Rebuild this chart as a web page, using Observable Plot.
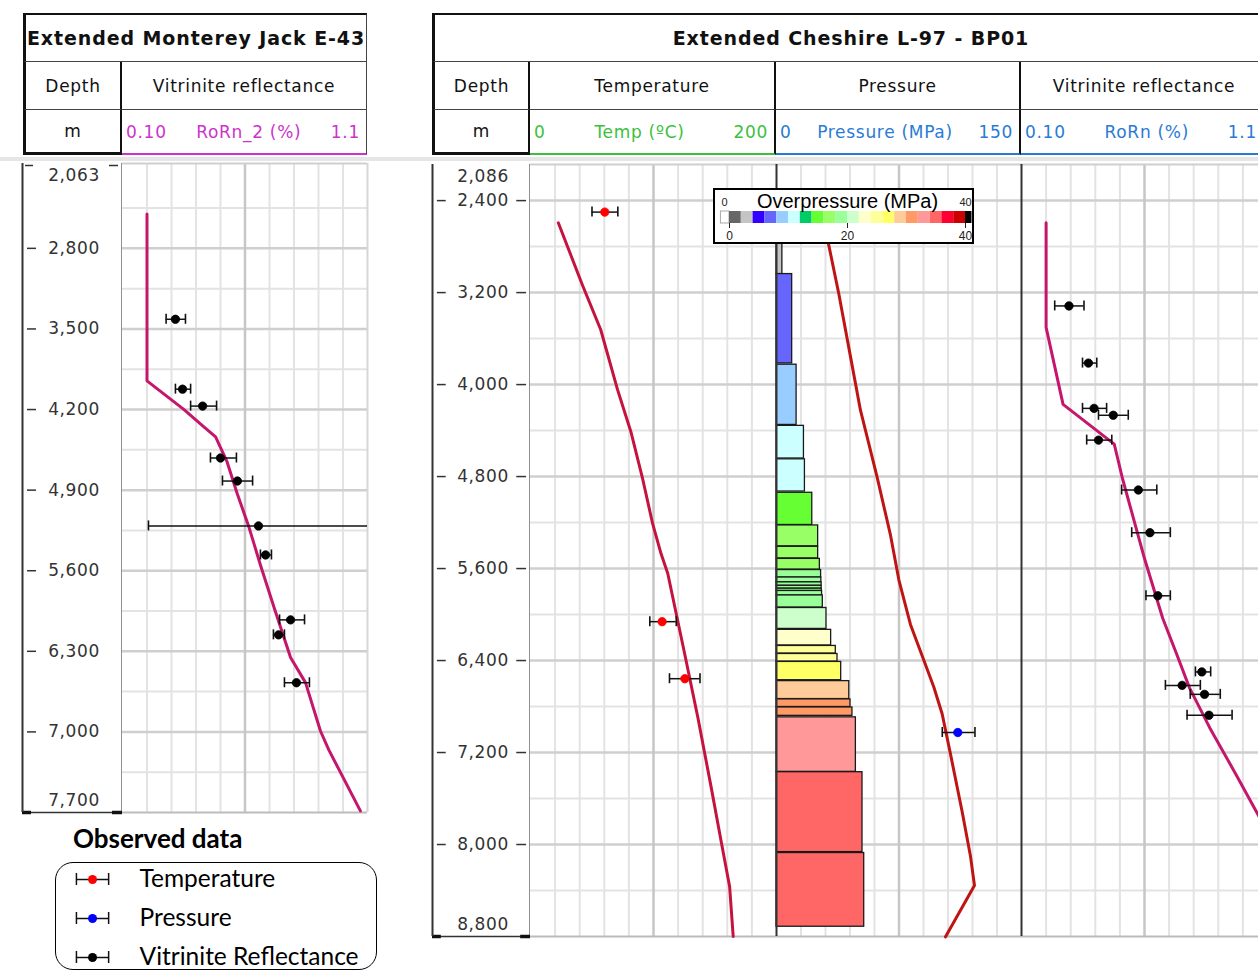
<!DOCTYPE html>
<html><head><meta charset="utf-8">
<script src="https://cdn.jsdelivr.net/npm/d3@7"></script>
<script src="https://cdn.jsdelivr.net/npm/@observablehq/plot@0.6"></script>
<style>
body{margin:0;background:#fff;}
#root{position:relative;width:1258px;height:972px;overflow:hidden;font-family:"DejaVu Sans",sans-serif;background:#fff;}
.cell{position:absolute;box-sizing:border-box;display:flex;align-items:center;justify-content:center;color:#111;font-size:17px;letter-spacing:0.7px;white-space:nowrap;}
.unit{justify-content:space-between;padding:0 6px 0 4px;}
</style></head><body><div id="root"></div>
<script>
// ================= DATA =================
// --- Extended Monterey Jack E-43 ---
const mjDepthDomain = [2063, 7700];
const mjDepthTicks = [2800, 3500, 4200, 4900, 5600, 6300, 7000];
const mjGridMinor = [2450, 3150, 3850, 4550, 5250, 5950, 6650, 7350];
const mjRoCurveDepth = [2502, 3951, 4199, 4338, 4437, 4655, 4929, 5221, 5550, 5915, 6353, 6572, 6992, 7156, 7686];
const mjRoCurveValue = [0.20, 0.20, 0.35, 0.425, 0.48, 0.527, 0.568, 0.616, 0.663, 0.718, 0.786, 0.847, 0.908, 0.942, 1.071];
const mjRoObsDepth = [3416, 4023, 4170, 4621, 4821, 5211, 5463, 6027, 6157, 6573];
const mjRoObsValue = [0.316, 0.345, 0.427, 0.500, 0.569, 0.655, 0.684, 0.786, 0.737, 0.810];
const mjRoObsLow   = [0.278, 0.316, 0.378, 0.459, 0.508, 0.206, 0.663, 0.741, 0.716, 0.761];
const mjRoObsHigh  = [0.357, 0.378, 0.484, 0.565, 0.631, 1.300, 0.708, 0.843, 0.761, 0.863];

// --- Extended Cheshire L-97 - BP01 ---
const chDepthDomain = [2086, 8800];
const chDepthTicks = [2400, 3200, 4000, 4800, 5600, 6400, 7200, 8000];
const chGridMinor = [2800, 3600, 4400, 5200, 6000, 6800, 7600, 8400];

const chTempCurveDepth = [2593, 3134, 3523, 4042, 4410, 4821, 5210, 5470, 5643, 5989, 6335, 6897, 7503, 7979, 8368, 8800];
const chTempCurveValue = [22.6, 42.2, 57.1, 70.7, 81.6, 91.2, 99.3, 106.1, 111.6, 118.4, 125.2, 136.1, 146.9, 155.1, 161.9, 164.8];
const chTempObsDepth = [2500, 6062, 6558];
const chTempObsValue = [60.4, 107.0, 125.5];
const chTempObsLow   = [50.0, 97.0, 113.0];
const chTempObsHigh  = [71.0, 118.5, 137.8];

const chPresCurveDepth = [2593, 2787, 3214, 3757, 4223, 4805, 5310, 5698, 6086, 6397, 6630, 6863, 7212, 7717, 8105, 8357, 8803];
const chPresCurveValue = [29.2, 32.0, 38.2, 45.3, 51.4, 61.6, 69.8, 74.9, 82.0, 90.2, 96.3, 101.4, 106.5, 113.7, 118.8, 121.2, 103.5];
const chPresObsDepth = [7026];
const chPresObsValue = [111.0];
const chPresObsLow   = [101.5];
const chPresObsHigh  = [121.5];

// Overpressure column (MPa)
const opTop    = [2593, 3039, 3827, 4359, 4650, 4941, 5225, 5411, 5516, 5613, 5678, 5720, 5750, 5775, 5795, 5834, 5943, 6133, 6273, 6343, 6412, 6579, 6738, 6808, 6894, 7371, 8074];
const opBottom = [3039, 3816, 4351, 4643, 4930, 5221, 5407, 5512, 5609, 5678, 5720, 5750, 5775, 5795, 5834, 5939, 6125, 6269, 6339, 6409, 6571, 6735, 6804, 6881, 7368, 8066, 8715];
const opValue  = [2.4, 6.4, 8.2, 11.2, 11.6, 14.6, 17.0, 17.0, 17.7, 18.2, 18.3, 18.4, 18.4, 18.5, 18.6, 18.9, 20.4, 22.3, 24.2, 24.9, 26.4, 29.7, 30.2, 31.0, 32.4, 35.1, 35.8];
const opThresholds = [0, 2, 4, 6, 8, 10, 12, 14, 16, 18, 20, 22, 24, 26, 28, 30, 32, 34, 36, 38, 40];
const opColors = ["#ffffff", "#666666", "#c4c4c4", "#3300ff", "#6666ff", "#99ccff", "#ccffff", "#00cc66", "#66ff33", "#99ff66", "#99ff99", "#ccffcc", "#ffffcc", "#ffff99", "#ffff66", "#ffcc99", "#ff9966", "#ff9999", "#ff6666", "#ff0033", "#cc0000", "#000000"];
const opLegendTicks = [0, 20, 40];

const chRoCurveDepth = [2593, 3502, 4172, 4518, 4821, 5513, 6032, 6335, 6638, 6984, 7395, 7762];
const chRoCurveValue = [0.20, 0.20, 0.269, 0.477, 0.511, 0.600, 0.674, 0.729, 0.783, 0.865, 0.973, 1.067];
const chRoObsDepth = [3316, 3813, 4207, 4267, 4483, 4917, 5288, 5837, 6499, 6616, 6694, 6876];
const chRoObsValue = [0.293, 0.372, 0.395, 0.473, 0.413, 0.575, 0.622, 0.654, 0.833, 0.753, 0.844, 0.862];
const chRoObsLow   = [0.235, 0.348, 0.348, 0.413, 0.365, 0.507, 0.548, 0.606, 0.807, 0.685, 0.786, 0.773];
const chRoObsHigh  = [0.354, 0.406, 0.446, 0.534, 0.467, 0.650, 0.705, 0.705, 0.869, 0.827, 0.908, 0.956];

// Track axes
const roDomain = [0.1, 1.1], roGrid = [0.2, 0.3, 0.4, 0.5, 0.7, 0.8, 0.9, 1.0], roMajor = [0.6];
const tempDomain = [0, 200], tempGrid = [20, 40, 60, 80, 120, 140, 160, 180], tempMajor = [100];
const presDomain = [0, 150], presGrid = [15, 30, 45, 60, 90, 105, 120, 135], presMajor = [75];
const opWidthDomain = [0, 100];

const legendLabels = ["Temperature", "Pressure", "Vitrinite Reflectance"];
const legendColors = ["#ff0000", "#0000ff", "#000000"];

// colours
const roColor = "#c4166c", tempColor = "#c5133f", presColor = "#bf1414";

// ================= HELPERS =================
const root = document.getElementById("root");
const fmt = d3.format(",");
const zip = (ds, vs) => ds.map((d, i) => ({d, v: vs[i]}));
const zipObs = (ds, vs, lo, hi) => ds.map((d, i) => ({d, v: vs[i], lo: lo[i], hi: hi[i]}));

function place(el, left, top) {
  el.style.position = "absolute";
  el.style.left = left + "px";
  el.style.top = top + "px";
  root.appendChild(el);
  return el;
}
function box(left, top, width, height, css, html, cls) {
  const d = document.createElement("div");
  d.className = "cell" + (cls ? " " + cls : "");
  Object.assign(d.style, {left: left + "px", top: top + "px", width: width + "px", height: height + "px"}, css || {});
  d.innerHTML = html || "";
  root.appendChild(d);
  return d;
}
function unitBox(left, top, width, height, color, a, b, c, css) {
  return box(left, top, width, height, Object.assign({color, borderBottom: "2px solid " + color}, css || {}),
    `<span>${a}</span><span>${b}</span><span>${c}</span>`, "unit");
}

function gridMarks(xMinor, xMajor, yMinor, yMajor, yDomain) {
  return [
    Plot.ruleX(xMinor, {stroke: "#e3e3e3", strokeWidth: 2}),
    Plot.ruleY(yMinor, {stroke: "#e3e3e3", strokeWidth: 2}),
    Plot.ruleY(yMajor, {stroke: "#cfcfcf", strokeWidth: 2.5}),
    Plot.ruleX(xMajor, {stroke: "#c6c6c6", strokeWidth: 2.5}),
    Plot.ruleY([yDomain[0]], {stroke: "#cfcfcf", strokeWidth: 2}),
    Plot.ruleY([yDomain[1]], {stroke: "#bbbbbb", strokeWidth: 2})
  ];
}
function errorMarks(obs, fill) {
  return [
    Plot.ruleY(obs, {y: "d", x1: "lo", x2: "hi", stroke: "#111", strokeWidth: 1.5, clip: true}),
    Plot.ruleX(obs, {x: "lo", y1: "d", y2: "d", insetTop: -5, insetBottom: -5, stroke: "#111", strokeWidth: 1.6, clip: true}),
    Plot.ruleX(obs, {x: "hi", y1: "d", y2: "d", insetTop: -5, insetBottom: -5, stroke: "#111", strokeWidth: 1.6, clip: true}),
    Plot.dot(obs, {x: "v", y: "d", r: 4.2, fill, stroke: fill, strokeWidth: 0.8})
  ];
}
function track({xDomain, yDomain, width, height, marks, background = "white"}) {
  return Plot.plot({
    width, height, marginTop: 0, marginBottom: 0, marginLeft: 0, marginRight: 0,
    x: {domain: xDomain, axis: null},
    y: {domain: yDomain, reverse: true, axis: null},
    color: {type: "threshold", domain: opThresholds, range: opColors},
    style: {background, overflow: "visible"},
    marks
  });
}
function depthTrack({domain, ticks, width, height, rightTicks, topMarks}) {
  const marks = [
    Plot.ruleY(ticks, {x1: 0.05, x2: 0.14, stroke: "#333", strokeWidth: 1.5}),
    Plot.text(ticks, {x: 0.515, y: d => d, text: d => fmt(d), fontSize: 17, fill: "#333"}),
    Plot.text([domain[0]], {x: 0.515, y: d => d, text: d => fmt(d), dy: 12, fontSize: 17, fill: "#333"}),
    Plot.text([domain[1]], {x: 0.515, y: d => d, text: d => fmt(d), dy: -12, fontSize: 17, fill: "#333"}),
    Plot.ruleY([domain[1]], {stroke: "#333", strokeWidth: 1.5}),
    Plot.ruleY([domain[1]], {x1: 0, x2: 0.09, stroke: "#111", strokeWidth: 3.5}),
    Plot.ruleY([domain[1]], {x1: 0.9, x2: 1, stroke: "#111", strokeWidth: 3.5}),
    Plot.ruleX([0], {stroke: "#333", strokeWidth: 2}),
    Plot.ruleX([1], {stroke: "#222", strokeWidth: 2})
  ];
  if (rightTicks) marks.push(Plot.ruleY(ticks, {x1: 0.86, x2: 0.96, stroke: "#333", strokeWidth: 1.5}));
  if (topMarks) {
    marks.push(Plot.ruleY([domain[0]], {x1: 0.03, x2: 0.11, dy: 2, stroke: "#333", strokeWidth: 1.5}));
    marks.push(Plot.ruleY([domain[0]], {x1: 0.87, x2: 0.96, dy: 2, stroke: "#333", strokeWidth: 1.5}));
  }
  return Plot.plot({
    width, height, marginTop: 0, marginBottom: 0, marginLeft: 0, marginRight: 0,
    x: {domain: [0, 1], axis: null},
    y: {domain, reverse: true, axis: null},
    style: {background: "white", overflow: "visible", fontFamily: "DejaVu Sans", letterSpacing: "0.6px"},
    marks
  });
}

// ================= HEADERS =================
const titleCss = {fontWeight: "bold", fontSize: "19px", letterSpacing: "0.9px"};
box(23, 13, 344, 49, Object.assign({borderTop: "2px solid #111", borderLeft: "3px solid #111", borderRight: "1px solid #444", borderBottom: "1px solid #444"}, titleCss), "Extended Monterey Jack E-43");
box(23, 62, 99, 48, {borderLeft: "3px solid #111", borderRight: "2px solid #111", borderBottom: "1px solid #444"}, "Depth");
box(122, 62, 245, 48, {borderRight: "1px solid #444", borderBottom: "1px solid #444"}, "Vitrinite reflectance");
box(23, 110, 99, 45, {borderLeft: "3px solid #111", borderRight: "2px solid #111", borderBottom: "3px solid #111"}, "m");
unitBox(122, 110, 245, 45, "#cc33cc", "0.10", "RoRn_2 (%)", "1.1", {borderRight: "1px solid #444"});

box(432, 13, 835, 49, Object.assign({borderTop: "2px solid #111", borderLeft: "3px solid #111", borderBottom: "1px solid #444"}, titleCss), "Extended Cheshire L-97 - BP01");
box(432, 62, 98, 48, {borderLeft: "3px solid #111", borderRight: "2px solid #111", borderBottom: "1px solid #444"}, "Depth");
box(530, 62, 246, 48, {borderRight: "2px solid #111", borderBottom: "1px solid #444"}, "Temperature");
box(776, 62, 245, 48, {borderRight: "2px solid #111", borderBottom: "1px solid #444"}, "Pressure");
box(1021, 62, 246, 48, {borderBottom: "1px solid #444"}, "Vitrinite reflectance");
box(432, 110, 98, 45, {borderLeft: "3px solid #111", borderRight: "2px solid #111", borderBottom: "3px solid #111"}, "m");
unitBox(530, 110, 246, 45, "#3cbf3c", "0", "Temp (ºC)", "200", {borderRight: "2px solid #111"});
unitBox(776, 110, 245, 45, "#2a7ad5", "0", "Pressure (MPa)", "150", {borderRight: "2px solid #111"});
unitBox(1021, 110, 246, 45, "#2a7ad5", "0.10", "RoRn (%)", "1.1", {paddingRight: "10px"});

box(0, 157, 1258, 4, {background: "#e6e6e6"});

// ================= LEFT WELL =================
const mjH = 649, mjTop = 163;
place(depthTrack({domain: mjDepthDomain, ticks: mjDepthTicks, width: 100, height: mjH, rightTicks: false, topMarks: true}), 22, mjTop);
place(track({
  xDomain: roDomain, yDomain: mjDepthDomain, width: 245, height: mjH,
  marks: [
    ...gridMarks(roGrid, roMajor, mjGridMinor, mjDepthTicks, mjDepthDomain),
    Plot.ruleX([roDomain[1]], {stroke: "#d6d6d6", strokeWidth: 2}),
    Plot.line(zip(mjRoCurveDepth, mjRoCurveValue), {x: "v", y: "d", stroke: roColor, strokeWidth: 3}),
    ...errorMarks(zipObs(mjRoObsDepth, mjRoObsValue, mjRoObsLow, mjRoObsHigh), "#000")
  ]
}), 122, mjTop);

// ================= RIGHT WELL =================
const chH = 772, chTop = 164;
place(depthTrack({domain: chDepthDomain, ticks: chDepthTicks, width: 98, height: chH, rightTicks: true}), 432, chTop);

// Temperature
place(track({
  xDomain: tempDomain, yDomain: chDepthDomain, width: 246, height: chH,
  marks: [
    ...gridMarks(tempGrid, tempMajor, chGridMinor, chDepthTicks, chDepthDomain),
    Plot.line(zip(chTempCurveDepth, chTempCurveValue), {x: "v", y: "d", stroke: tempColor, strokeWidth: 3}),
    ...errorMarks(zipObs(chTempObsDepth, chTempObsValue, chTempObsLow, chTempObsHigh), "#ff0000")
  ]
}), 530, chTop);

// Pressure: grid layer
place(track({
  xDomain: presDomain, yDomain: chDepthDomain, width: 245, height: chH,
  marks: gridMarks(presGrid, presMajor, chGridMinor, chDepthTicks, chDepthDomain)
}), 776, chTop);
// Overpressure bars layer
const opBars = opTop.map((t, i) => ({top: t, bottom: opBottom[i], op: opValue[i]}));
place(track({
  xDomain: opWidthDomain, yDomain: chDepthDomain, width: 245, height: chH, background: "transparent",
  marks: [Plot.rect(opBars, {x1: 0, x2: "op", y1: "top", y2: "bottom", fill: "op", stroke: "#1a1a1a", strokeWidth: 1.3})]
}), 776, chTop);
// Pressure curve layer
place(track({
  xDomain: presDomain, yDomain: chDepthDomain, width: 245, height: chH, background: "transparent",
  marks: [
    Plot.ruleX([presDomain[0]], {stroke: "#333", strokeWidth: 2}),
    Plot.line(zip(chPresCurveDepth, chPresCurveValue), {x: "v", y: "d", stroke: presColor, strokeWidth: 3}),
    ...errorMarks(zipObs(chPresObsDepth, chPresObsValue, chPresObsLow, chPresObsHigh), "#0000ff")
  ]
}), 776, chTop);

// Vitrinite
place(track({
  xDomain: roDomain, yDomain: chDepthDomain, width: 246, height: chH,
  marks: [
    ...gridMarks(roGrid, roMajor, chGridMinor, chDepthTicks, chDepthDomain),
    Plot.ruleX([roDomain[0]], {stroke: "#333", strokeWidth: 2}),
    Plot.line(zip(chRoCurveDepth, chRoCurveValue), {x: "v", y: "d", stroke: roColor, strokeWidth: 3}),
    ...errorMarks(zipObs(chRoObsDepth, chRoObsValue, chRoObsLow, chRoObsHigh), "#000")
  ]
}), 1021, chTop);

// ================= OVERPRESSURE LEGEND =================
const swatches = opColors.map((c, i) => ({
  lo: i === 0 ? -1.45 : opThresholds[i - 1],
  hi: i === opColors.length - 1 ? 41.1 : opThresholds[i],
  color: c
}));
const opLegend = Plot.plot({
  width: 261, height: 56, marginLeft: 16, marginRight: 9, marginTop: 23, marginBottom: 21,
  x: {domain: [0, 40], axis: null},
  y: {domain: [0, 1], axis: null},
  color: {type: "identity"},
  style: {background: "white", overflow: "visible", fontFamily: "Liberation Sans"},
  marks: [
    Plot.rect(swatches, {x1: "lo", x2: "hi", y1: 0, y2: 1, fill: "color", stroke: (d, i) => i === 0 ? "#aaaaaa" : "none"}),
    Plot.ruleX(opLegendTicks, {x: d => d, y1: 0, y2: 0, insetTop: 0, insetBottom: -5, stroke: "#222", strokeWidth: 1}),
    Plot.text(opLegendTicks, {x: d => d, y: 0, dy: 13, text: d => String(d), fontSize: 12, fill: "#222"}),
    Plot.text(["Overpressure (MPa)"], {x: 20, y: 1, dy: -10, text: d => d, fontSize: 20, fill: "#000"}),
    Plot.text([opThresholds[0]], {x: d => d, y: 1, dx: -5, dy: -9, text: d => String(d), fontSize: 11, fill: "#222"}),
    Plot.text([opThresholds[opThresholds.length - 1]], {x: d => d, y: 1, dy: -9, text: d => String(d), fontSize: 11, fill: "#222"})
  ]
});
place(opLegend, 713, 188);
box(713, 188, 261, 56, {border: "2px solid #000", background: "transparent"});

// ================= OBSERVED DATA LEGEND =================
box(73, 821, 220, 34, {justifyContent: "flex-start", fontFamily: "Lato", fontWeight: "bold", fontSize: "26px", letterSpacing: "0px", color: "#000"}, "Observed data");
box(55, 862, 322, 108, {border: "1.5px solid #000", borderRadius: "18px", background: "#fff"});
const obsLegend = Plot.plot({
  width: 322, height: 112, marginTop: 17, marginBottom: 17, marginLeft: 0, marginRight: 0,
  x: {domain: [0, 1], axis: null},
  y: {type: "point", domain: legendLabels, padding: 0, axis: null},
  color: {type: "identity"},
  style: {background: "transparent", overflow: "visible"},
  marks: [
    Plot.ruleY(legendLabels, {y: d => d, x1: 0.065, x2: 0.165, stroke: "#111", strokeWidth: 1.5}),
    Plot.ruleX(legendLabels, {x: 0.065, y1: d => d, y2: d => d, insetTop: -6, insetBottom: -6, stroke: "#111", strokeWidth: 1.5}),
    Plot.ruleX(legendLabels, {x: 0.165, y1: d => d, y2: d => d, insetTop: -6, insetBottom: -6, stroke: "#111", strokeWidth: 1.5}),
    Plot.dot(legendLabels, {x: 0.115, y: d => d, r: 4.5, fill: (d, i) => legendColors[i]}),
    Plot.text(legendLabels, {x: 0.261, y: d => d, text: d => d, textAnchor: "start", fontSize: 24.5, fontFamily: "Lato", fill: "#000"})
  ]
});
place(obsLegend, 55, 862);
</script></body></html>
